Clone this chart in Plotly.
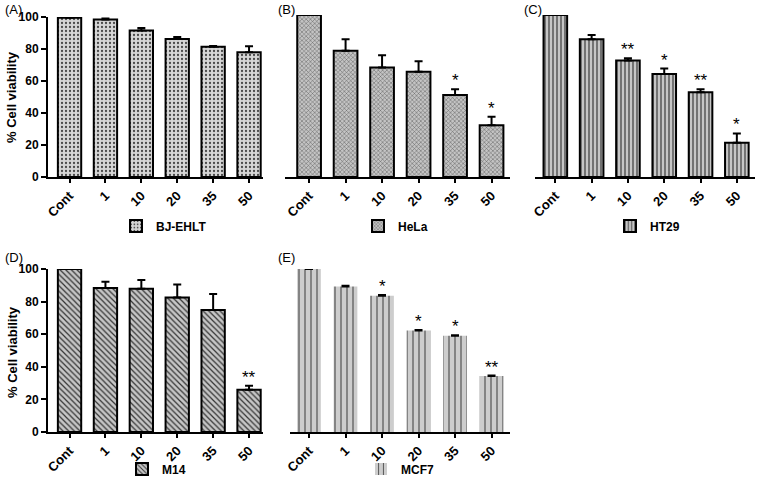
import plotly.graph_objects as go

categories = ["Cont", "1", "10", "20", "35", "50"]

bj_vals = [99.5, 98.5, 91.6, 86.2, 81.4, 78.0]
bj_err = [0, 0.5, 1.5, 1.3, 0.4, 3.7]

hela_vals = [100, 77.9, 67.6, 64.9, 50.6, 32.0]
hela_err = [0, 7.2, 7.6, 6.6, 3.5, 5.2]
hela_sig = ["", "", "", "", "*", "*"]

ht29_vals = [100, 85.1, 71.9, 63.6, 52.3, 21.1]
ht29_err = [0, 2.5, 1.4, 3.3, 1.9, 5.8]
ht29_sig = ["", "", "**", "*", "**", "*"]

m14_vals = [100, 88.3, 87.9, 82.5, 74.9, 25.9]
m14_err = [0, 3.9, 5.3, 8.0, 9.8, 2.5]
m14_sig = ["", "", "", "", "", "**"]

mcf7_vals = [100, 89.3, 83.6, 62.2, 59.1, 34.3]
mcf7_err = [0, 0.4, 0.4, 0.3, 0.3, 0.3]
mcf7_sig = ["", "", "*", "*", "*", "**"]

W, H = 760, 488
FONT = "Arial, Liberation Sans, sans-serif"

def px(x):
    return x / W

def py(y):
    return 1 - y / H

fig = go.Figure()

panels = [
    dict(name="BJ-EHLT", vals=bj_vals, err=bj_err, sig=None, ax="", leg="legend",
         shape=".", bg="#d6d6d6", fg="#4a4a4a", size=4, sol=0.25, line=2),
    dict(name="HeLa", vals=hela_vals, err=hela_err, sig=hela_sig, ax="2", leg="legend2",
         shape="x", bg="#c4c4c4", fg="#5a5a5a", size=3, sol=0.3, line=2),
    dict(name="HT29", vals=ht29_vals, err=ht29_err, sig=ht29_sig, ax="3", leg="legend3",
         shape="|", bg="#c6c6c6", fg="#3a3a3a", size=4, sol=0.3, line=2),
    dict(name="M14", vals=m14_vals, err=m14_err, sig=m14_sig, ax="4", leg="legend4",
         shape="\\", bg="#c6c6c6", fg="#333333", size=4, sol=0.3, line=2),
    dict(name="MCF7", vals=mcf7_vals, err=mcf7_err, sig=mcf7_sig, ax="5", leg="legend5",
         shape="|", bg="#cdcdcd", fg="#2a2a2a", size=6, sol=0.15, line=0),
]

annotations = []
for p in panels:
    fig.add_trace(go.Bar(
        x=categories, y=p["vals"], name=p["name"], showlegend=True,
        xaxis="x" + p["ax"], yaxis="y" + p["ax"], legend=p["leg"],
        marker=dict(color=p["bg"],
                    line=dict(color="black", width=p["line"]),
                    pattern=dict(shape=p["shape"], bgcolor=p["bg"], fgcolor=p["fg"],
                                 size=p["size"], solidity=p["sol"], fillmode="replace")),
        error_y=dict(type="data", array=p["err"], arrayminus=[0] * 6, symmetric=False,
                     color="black", thickness=2, width=4),
    ))
    if p["sig"]:
        for i, (v, e, s) in enumerate(zip(p["vals"], p["err"], p["sig"])):
            if s:
                annotations.append(dict(
                    x=i, y=v + e, xref="x" + p["ax"], yref="y" + p["ax"],
                    text=s, showarrow=False, yanchor="bottom", yshift=-3,
                    font=dict(family=FONT, size=17, color="black")))

xaxis_common = dict(type="category", showline=True, linecolor="black", linewidth=2,
                    ticks="outside", ticklen=4, tickwidth=2, tickcolor="black",
                    tickangle=-45, showgrid=False, zeroline=False, automargin=False,
                    tickfont=dict(family=FONT, size=13, color="black", weight="bold"))

def yaxis(domain, visible):
    d = dict(domain=domain, range=[0, 100], showgrid=False, zeroline=False, automargin=False,
             tickfont=dict(family=FONT, size=12, color="black", weight="bold"))
    if visible:
        d.update(showline=True, linecolor="black", linewidth=2, ticks="outside",
                 ticklen=5, tickwidth=2, tickcolor="black", tickvals=[0, 20, 40, 60, 80, 100])
    else:
        d.update(showline=False, showticklabels=False, ticks="")
    return d

top_A = [py(177), py(17)]
top_BC = [py(177), py(15)]
bot = [py(432), py(269)]

fig.update_layout(
    template="none",
    width=W, height=H, margin=dict(l=0, r=0, t=0, b=0, autoexpand=False),
    paper_bgcolor="white", plot_bgcolor="white",
    bargap=0.35, showlegend=True,
    font=dict(family=FONT, color="black"),
    xaxis=dict(xaxis_common, domain=[px(48), px(263.4)], range=[-0.6, 5.4], anchor="y"),
    yaxis=dict(yaxis(top_A, True), anchor="x"),
    xaxis2=dict(xaxis_common, domain=[px(285), px(509.8)], range=[-0.66, 5.5], anchor="y2"),
    yaxis2=dict(yaxis(top_BC, False), anchor="x2"),
    xaxis3=dict(xaxis_common, domain=[px(535), px(755)], range=[-0.56, 5.5], anchor="y3"),
    yaxis3=dict(yaxis(top_BC, False), anchor="x3"),
    xaxis4=dict(xaxis_common, domain=[px(48), px(263.4)], range=[-0.6, 5.4], anchor="y4"),
    yaxis4=dict(yaxis(bot, True), anchor="x4"),
    xaxis5=dict(xaxis_common, domain=[px(290), px(509.8)], range=[-0.52, 5.5], anchor="y5"),
    yaxis5=dict(yaxis(bot, False), anchor="x5"),
)

leg_font = dict(family=FONT, size=12, color="black", weight="bold")
def legend(x, y):
    return dict(x=px(x), y=py(y), xanchor="left", yanchor="middle", bgcolor="rgba(0,0,0,0)",
                font=leg_font, itemwidth=30, tracegroupgap=0, borderwidth=0)

fig.update_layout(
    legend=legend(116, 226),
    legend2=legend(358, 226),
    legend3=legend(610, 226),
    legend4=legend(122, 469),
    legend5=legend(361, 469),
)

for lbl, x, y in [("(A)", 3, 10), ("(B)", 276, 10), ("(C)", 522, 10), ("(D)", 3, 257), ("(E)", 276, 257)]:
    annotations.append(dict(x=px(x), y=py(y), xref="paper", yref="paper", text=lbl,
                            showarrow=False, xanchor="left", yanchor="middle",
                            font=dict(family=FONT, size=13, color="black")))

for y in [97, 352]:
    annotations.append(dict(x=px(12), y=py(y), xref="paper", yref="paper", text="% Cell viability",
                            showarrow=False, textangle=-90, xanchor="center", yanchor="middle",
                            font=dict(family=FONT, size=13, color="black", weight="bold")))

fig.update_layout(annotations=annotations)
fig.write_html("out.html", config={"displayModeBar": False},
               post_script="document.body.style.margin='0px';")
